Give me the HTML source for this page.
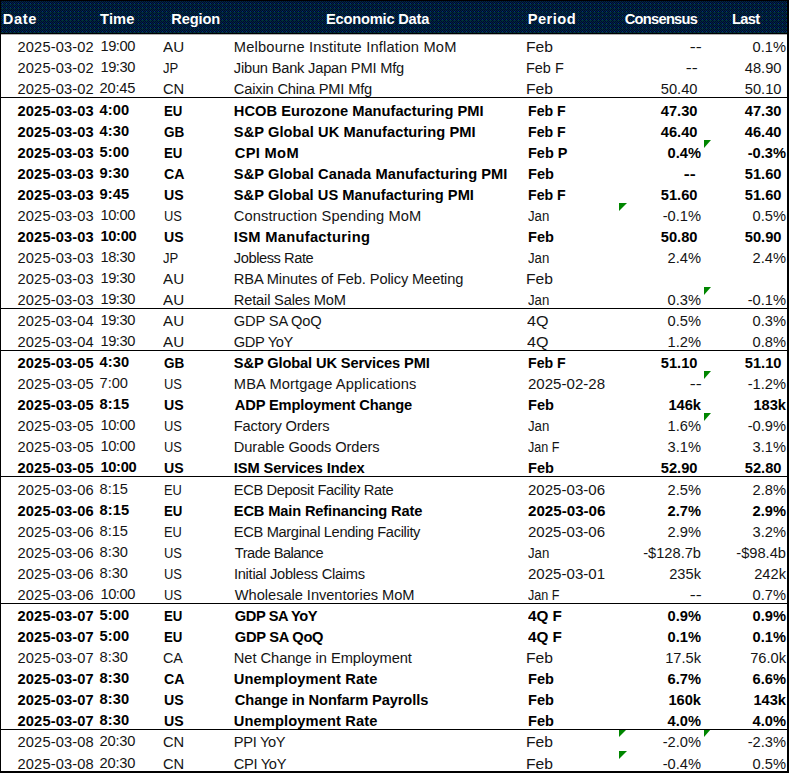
<!DOCTYPE html>
<html><head><meta charset="utf-8"><title>Economic Calendar</title>
<style>
html,body{margin:0;padding:0;background:#fff;}
body{width:790px;height:774px;position:relative;overflow:hidden;font-family:"Liberation Sans",sans-serif;font-size:14.67px;color:#141414;}
.hd{position:absolute;left:1px;top:1px;width:786px;height:33px;}
.bt{position:absolute;left:0;top:0;width:789px;height:1px;background:#000;}
.bl{position:absolute;left:0;top:0;width:1px;height:773px;background:#000;}
.br{position:absolute;left:787px;top:0;width:2px;height:773px;background:#000;}
.bb{position:absolute;left:0;top:771px;width:789px;height:2px;background:#000;}
.hb{position:absolute;left:0;top:33px;width:789px;height:1px;background:#000;}
.hb2{position:absolute;left:1px;top:34px;width:786px;height:1px;background:rgba(0,0,0,0.3);}
.sep{position:absolute;left:0;width:788px;height:1px;background:#000;}
.r{position:absolute;left:0;width:790px;height:21px;line-height:21px;white-space:nowrap;}
.r span{position:absolute;top:3px;transform-origin:0 50%;}
.b{font-weight:bold;color:#000;}
.h{position:absolute;top:1px;height:33px;line-height:37px;font-weight:bold;color:#fff;white-space:nowrap;}
.c1{left:18px}.r span.c2{left:101px;top:2px}.c3{left:163px}.c4{left:235px}.c5{left:528px}
.c6{right:89px}.c6d{right:92.5px}.c7{right:4px}.c7d{right:8.5px}
.t{position:absolute;width:0;height:0;border-top:8px solid #008600;border-right:8px solid transparent;}
</style></head><body>
<svg class="hd" width="786" height="33"><defs><pattern id="d" width="4" height="4" patternUnits="userSpaceOnUse">
<rect width="4" height="4" fill="#000038"/>
<rect x="1" y="0" width="1" height="1" fill="#003333"/><rect x="3" y="0" width="1" height="1" fill="#003333"/>
<rect x="0" y="1" width="1" height="1" fill="#003333"/><rect x="2" y="1" width="1" height="1" fill="#003333"/>
<rect x="1" y="2" width="1" height="1" fill="#003377"/><rect x="3" y="2" width="1" height="1" fill="#003333"/>
<rect x="0" y="3" width="3" height="1" fill="#003333"/>
</pattern></defs><rect width="786" height="33" fill="url(#d)"/></svg>
<div class="bt"></div><div class="bl"></div><div class="br"></div><div class="bb"></div><div class="hb"></div><div class="hb2"></div>
<div class="h" style="left:2.8px;letter-spacing:0.63px">Date</div>
<div class="h" style="left:100.1px;letter-spacing:0.13px">Time</div>
<div class="h" style="left:171.3px;letter-spacing:-0.14px">Region</div>
<div class="h" style="left:326px;letter-spacing:-0.21px">Economic Data</div>
<div class="h" style="left:527.7px;letter-spacing:0.48px">Period</div>
<div class="h" style="left:624.7px;letter-spacing:-0.72px">Consensus</div>
<div class="h" style="left:732px;letter-spacing:-0.7px">Last</div>

<div class="r" style="top:34.20px"><span class="c1" style="letter-spacing:0.144px;margin-left:-0.50px">2025-03-02</span><span class="c2" style="letter-spacing:-0.425px;margin-left:-0.60px">19:00</span><span class="c3" style="transform:scaleX(1.0363);margin-left:0.20px">AU</span><span class="c4" style="letter-spacing:0.184px;margin-left:-1.20px">Melbourne Institute Inflation MoM</span><span class="c5" style="transform:scaleX(1.0701);margin-left:-1.60px">Feb</span><span class="c6" style="transform-origin:100% 50%;transform:scaleX(1.22);margin-right:-0.6px">--</span><span class="c7">0.1%</span></div>
<div class="r" style="top:55.20px"><span class="c1" style="letter-spacing:0.144px;margin-left:-0.50px">2025-03-02</span><span class="c2" style="letter-spacing:-0.425px;margin-left:-0.60px">19:30</span><span class="c3" style="transform:scaleX(0.8931);margin-left:0.20px">JP</span><span class="c4" style="letter-spacing:-0.209px;margin-left:-1.20px">Jibun Bank Japan PMI Mfg</span><span class="c5" style="transform:scaleX(0.9865);margin-left:-1.60px">Feb F</span><span class="c6d" style="transform-origin:100% 50%;transform:scaleX(1.22);margin-right:-0.6px">--</span><span class="c7d">48.90</span></div>
<div class="r" style="top:76.20px"><span class="c1" style="letter-spacing:0.144px;margin-left:-0.50px">2025-03-02</span><span class="c2" style="letter-spacing:-0.225px;margin-left:-1.40px">20:45</span><span class="c3" style="transform:scaleX(1.0028);margin-left:-0.10px">CN</span><span class="c4" style="letter-spacing:-0.174px;margin-left:-1.20px">Caixin China PMI Mfg</span><span class="c5" style="transform:scaleX(1.0701);margin-left:-1.60px">Feb</span><span class="c6d">50.40</span><span class="c7d">50.10</span></div>
<div class="r b" style="top:98.20px"><span class="c1" style="letter-spacing:0.144px;margin-left:-0.50px">2025-03-03</span><span class="c2" style="letter-spacing:0.133px;margin-left:-1.50px">4:00</span><span class="c3" style="transform:scaleX(0.9021);margin-left:1.00px">EU</span><span class="c4" style="letter-spacing:0.020px;margin-left:-1.20px">HCOB Eurozone Manufacturing PMI</span><span class="c5" style="transform:scaleX(0.9657);margin-left:0.10px">Feb F</span><span class="c6d">47.30</span><span class="c7d">47.30</span></div>
<div class="r b" style="top:119.20px"><span class="c1" style="letter-spacing:0.144px;margin-left:-0.50px">2025-03-03</span><span class="c2" style="letter-spacing:0.133px;margin-left:-1.50px">4:30</span><span class="c3" style="transform:scaleX(0.9226);margin-left:0.50px">GB</span><span class="c4" style="letter-spacing:0.060px;margin-left:-1.20px">S&amp;P Global UK Manufacturing PMI</span><span class="c5" style="transform:scaleX(0.9657);margin-left:0.10px">Feb F</span><span class="c6d">46.40</span><span class="c7d">46.40</span></div>
<div class="r b" style="top:140.20px"><span class="c1" style="letter-spacing:0.144px;margin-left:-0.50px">2025-03-03</span><span class="c2" style="letter-spacing:0.133px;margin-left:-1.50px">5:00</span><span class="c3" style="transform:scaleX(0.9021);margin-left:1.00px">EU</span><span class="c4" style="letter-spacing:0.317px;margin-left:-0.20px">CPI MoM</span><span class="c5" style="transform:scaleX(0.9875);margin-left:0.10px">Feb P</span><span class="c6">0.4%</span><span class="c7">-0.3%</span></div>
<div class="t" style="left:704px;top:140px;border-right-width:7px"></div>
<div class="r b" style="top:161.20px"><span class="c1" style="letter-spacing:0.144px;margin-left:-0.50px">2025-03-03</span><span class="c2" style="letter-spacing:0.133px;margin-left:-1.50px">9:30</span><span class="c3" style="transform:scaleX(0.9655);margin-left:0.70px">CA</span><span class="c4" style="letter-spacing:0.056px;margin-left:-1.20px">S&amp;P Global Canada Manufacturing PMI</span><span class="c5" style="transform:scaleX(0.9931);margin-left:0.10px">Feb</span><span class="c6d" style="transform-origin:100% 50%;transform:scaleX(1.22);margin-right:2px">--</span><span class="c7d">51.60</span></div>
<div class="r b" style="top:182.20px"><span class="c1" style="letter-spacing:0.144px;margin-left:-0.50px">2025-03-03</span><span class="c2" style="letter-spacing:0.133px;margin-left:-1.50px">9:45</span><span class="c3" style="transform:scaleX(0.9637);margin-left:0.50px">US</span><span class="c4" style="letter-spacing:0.033px;margin-left:-1.20px">S&amp;P Global US Manufacturing PMI</span><span class="c5" style="transform:scaleX(0.9657);margin-left:0.10px">Feb F</span><span class="c6d">51.60</span><span class="c7d">51.60</span></div>
<div class="r" style="top:203.20px"><span class="c1" style="letter-spacing:0.144px;margin-left:-0.50px">2025-03-03</span><span class="c2" style="letter-spacing:-0.425px;margin-left:-0.60px">10:00</span><span class="c3" style="transform:scaleX(0.8818);margin-left:0.50px">US</span><span class="c4" style="letter-spacing:0.104px;margin-left:-1.20px">Construction Spending MoM</span><span class="c5" style="transform:scaleX(0.9020);margin-left:-0.20px">Jan</span><span class="c6">-0.1%</span><span class="c7">0.5%</span></div>
<div class="t" style="left:619px;top:203px"></div>
<div class="r b" style="top:224.20px"><span class="c1" style="letter-spacing:0.144px;margin-left:-0.50px">2025-03-03</span><span class="c2" style="letter-spacing:-0.300px;margin-left:-0.60px">10:00</span><span class="c3" style="transform:scaleX(0.9637);margin-left:0.50px">US</span><span class="c4" style="letter-spacing:0.312px;margin-left:-1.20px">ISM Manufacturing</span><span class="c5" style="transform:scaleX(0.9931);margin-left:0.10px">Feb</span><span class="c6d">50.80</span><span class="c7d">50.90</span></div>
<div class="r" style="top:245.20px"><span class="c1" style="letter-spacing:0.144px;margin-left:-0.50px">2025-03-03</span><span class="c2" style="letter-spacing:-0.425px;margin-left:-0.60px">18:30</span><span class="c3" style="transform:scaleX(0.8931);margin-left:0.20px">JP</span><span class="c4" style="letter-spacing:-0.436px;margin-left:-1.20px">Jobless Rate</span><span class="c5" style="transform:scaleX(0.9020);margin-left:-0.20px">Jan</span><span class="c6">2.4%</span><span class="c7">2.4%</span></div>
<div class="r" style="top:266.20px"><span class="c1" style="letter-spacing:0.144px;margin-left:-0.50px">2025-03-03</span><span class="c2" style="letter-spacing:-0.425px;margin-left:-0.60px">19:30</span><span class="c3" style="transform:scaleX(1.0363);margin-left:0.20px">AU</span><span class="c4" style="letter-spacing:-0.127px;margin-left:-1.20px">RBA Minutes of Feb. Policy Meeting</span><span class="c5" style="transform:scaleX(1.0701);margin-left:-1.60px">Feb</span><span class="c6"></span><span class="c7"></span></div>
<div class="r" style="top:287.20px"><span class="c1" style="letter-spacing:0.144px;margin-left:-0.50px">2025-03-03</span><span class="c2" style="letter-spacing:-0.425px;margin-left:-0.60px">19:30</span><span class="c3" style="transform:scaleX(1.0363);margin-left:0.20px">AU</span><span class="c4" style="letter-spacing:-0.180px;margin-left:-1.20px">Retail Sales MoM</span><span class="c5" style="transform:scaleX(0.9020);margin-left:-0.20px">Jan</span><span class="c6">0.3%</span><span class="c7">-0.1%</span></div>
<div class="t" style="left:704px;top:287px;border-right-width:7px"></div>
<div class="r" style="top:308.20px"><span class="c1" style="letter-spacing:0.144px;margin-left:-0.50px">2025-03-04</span><span class="c2" style="letter-spacing:-0.425px;margin-left:-0.60px">19:30</span><span class="c3" style="transform:scaleX(1.0363);margin-left:0.20px">AU</span><span class="c4" style="letter-spacing:-0.156px;margin-left:-1.20px">GDP SA QoQ</span><span class="c5" style="transform:scaleX(1.0969);margin-left:-1.00px">4Q</span><span class="c6">0.5%</span><span class="c7">0.3%</span></div>
<div class="r" style="top:329.20px"><span class="c1" style="letter-spacing:0.144px;margin-left:-0.50px">2025-03-04</span><span class="c2" style="letter-spacing:-0.425px;margin-left:-0.60px">19:30</span><span class="c3" style="transform:scaleX(1.0363);margin-left:0.20px">AU</span><span class="c4" style="letter-spacing:-0.350px;margin-left:-1.20px">GDP YoY</span><span class="c5" style="transform:scaleX(1.0969);margin-left:-1.00px">4Q</span><span class="c6">1.2%</span><span class="c7">0.8%</span></div>
<div class="r b" style="top:350.20px"><span class="c1" style="letter-spacing:0.144px;margin-left:-0.50px">2025-03-05</span><span class="c2" style="letter-spacing:0.133px;margin-left:-1.50px">4:30</span><span class="c3" style="transform:scaleX(0.9226);margin-left:0.50px">GB</span><span class="c4" style="letter-spacing:-0.132px;margin-left:-1.20px">S&amp;P Global UK Services PMI</span><span class="c5" style="transform:scaleX(0.9657);margin-left:0.10px">Feb F</span><span class="c6d">51.10</span><span class="c7d">51.10</span></div>
<div class="r" style="top:371.20px"><span class="c1" style="letter-spacing:0.144px;margin-left:-0.50px">2025-03-05</span><span class="c2" style="letter-spacing:0.000px;margin-left:-1.50px">7:00</span><span class="c3" style="transform:scaleX(0.8818);margin-left:0.50px">US</span><span class="c4" style="letter-spacing:0.142px;margin-left:-1.20px">MBA Mortgage Applications</span><span class="c5" style="transform:scaleX(1.0274);margin-left:0.00px">2025-02-28</span><span class="c6" style="transform-origin:100% 50%;transform:scaleX(1.22);margin-right:-0.6px">--</span><span class="c7">-1.2%</span></div>
<div class="t" style="left:704px;top:371px;border-right-width:7px"></div>
<div class="r b" style="top:392.20px"><span class="c1" style="letter-spacing:0.144px;margin-left:-0.50px">2025-03-05</span><span class="c2" style="letter-spacing:0.133px;margin-left:-1.50px">8:15</span><span class="c3" style="transform:scaleX(0.9637);margin-left:0.50px">US</span><span class="c4" style="letter-spacing:-0.155px;margin-left:-0.20px">ADP Employment Change</span><span class="c5" style="transform:scaleX(0.9931);margin-left:0.10px">Feb</span><span class="c6">146k</span><span class="c7">183k</span></div>
<div class="r" style="top:413.20px"><span class="c1" style="letter-spacing:0.144px;margin-left:-0.50px">2025-03-05</span><span class="c2" style="letter-spacing:-0.425px;margin-left:-0.60px">10:00</span><span class="c3" style="transform:scaleX(0.8818);margin-left:0.50px">US</span><span class="c4" style="letter-spacing:-0.154px;margin-left:-1.20px">Factory Orders</span><span class="c5" style="transform:scaleX(0.9020);margin-left:-0.20px">Jan</span><span class="c6">1.6%</span><span class="c7">-0.9%</span></div>
<div class="t" style="left:704px;top:413px;border-right-width:7px"></div>
<div class="r" style="top:434.20px"><span class="c1" style="letter-spacing:0.144px;margin-left:-0.50px">2025-03-05</span><span class="c2" style="letter-spacing:-0.425px;margin-left:-0.60px">10:00</span><span class="c3" style="transform:scaleX(0.8818);margin-left:0.50px">US</span><span class="c4" style="letter-spacing:-0.089px;margin-left:-1.20px">Durable Goods Orders</span><span class="c5" style="transform:scaleX(0.8571);margin-left:-0.20px">Jan F</span><span class="c6">3.1%</span><span class="c7">3.1%</span></div>
<div class="r b" style="top:455.20px"><span class="c1" style="letter-spacing:0.144px;margin-left:-0.50px">2025-03-05</span><span class="c2" style="letter-spacing:-0.300px;margin-left:-0.60px">10:00</span><span class="c3" style="transform:scaleX(0.9637);margin-left:0.50px">US</span><span class="c4" style="letter-spacing:-0.118px;margin-left:-1.20px">ISM Services Index</span><span class="c5" style="transform:scaleX(0.9931);margin-left:0.10px">Feb</span><span class="c6d">52.90</span><span class="c7d">52.80</span></div>
<div class="r" style="top:477.20px"><span class="c1" style="letter-spacing:0.144px;margin-left:-0.50px">2025-03-06</span><span class="c2" style="letter-spacing:0.000px;margin-left:-1.50px">8:15</span><span class="c3" style="transform:scaleX(0.8782);margin-left:1.00px">EU</span><span class="c4" style="letter-spacing:-0.367px;margin-left:-1.20px">ECB Deposit Facility Rate</span><span class="c5" style="transform:scaleX(1.0274);margin-left:0.00px">2025-03-06</span><span class="c6">2.5%</span><span class="c7">2.8%</span></div>
<div class="r b" style="top:498.20px"><span class="c1" style="letter-spacing:0.144px;margin-left:-0.50px">2025-03-06</span><span class="c2" style="letter-spacing:0.133px;margin-left:-1.50px">8:15</span><span class="c3" style="transform:scaleX(0.9021);margin-left:1.00px">EU</span><span class="c4" style="letter-spacing:-0.154px;margin-left:-1.20px">ECB Main Refinancing Rate</span><span class="c5" style="transform:scaleX(1.0331);margin-left:0.00px">2025-03-06</span><span class="c6">2.7%</span><span class="c7">2.9%</span></div>
<div class="r" style="top:519.20px"><span class="c1" style="letter-spacing:0.144px;margin-left:-0.50px">2025-03-06</span><span class="c2" style="letter-spacing:0.000px;margin-left:-1.50px">8:15</span><span class="c3" style="transform:scaleX(0.8782);margin-left:1.00px">EU</span><span class="c4" style="letter-spacing:-0.346px;margin-left:-1.20px">ECB Marginal Lending Facility</span><span class="c5" style="transform:scaleX(1.0274);margin-left:0.00px">2025-03-06</span><span class="c6">2.9%</span><span class="c7">3.2%</span></div>
<div class="r" style="top:540.20px"><span class="c1" style="letter-spacing:0.144px;margin-left:-0.50px">2025-03-06</span><span class="c2" style="letter-spacing:0.000px;margin-left:-1.50px">8:30</span><span class="c3" style="transform:scaleX(0.8818);margin-left:0.50px">US</span><span class="c4" style="letter-spacing:-0.500px;margin-left:-0.20px">Trade Balance</span><span class="c5" style="transform:scaleX(0.9020);margin-left:-0.20px">Jan</span><span class="c6">-$128.7b</span><span class="c7">-$98.4b</span></div>
<div class="r" style="top:561.20px"><span class="c1" style="letter-spacing:0.144px;margin-left:-0.50px">2025-03-06</span><span class="c2" style="letter-spacing:0.000px;margin-left:-1.50px">8:30</span><span class="c3" style="transform:scaleX(0.8818);margin-left:0.50px">US</span><span class="c4" style="letter-spacing:-0.270px;margin-left:-1.10px">Initial Jobless Claims</span><span class="c5" style="transform:scaleX(1.0274);margin-left:0.00px">2025-03-01</span><span class="c6">235k</span><span class="c7">242k</span></div>
<div class="r" style="top:582.20px"><span class="c1" style="letter-spacing:0.144px;margin-left:-0.50px">2025-03-06</span><span class="c2" style="letter-spacing:-0.425px;margin-left:-0.60px">10:00</span><span class="c3" style="transform:scaleX(0.8818);margin-left:0.50px">US</span><span class="c4" style="letter-spacing:-0.046px;margin-left:-0.20px">Wholesale Inventories MoM</span><span class="c5" style="transform:scaleX(0.8571);margin-left:-0.20px">Jan F</span><span class="c6" style="transform-origin:100% 50%;transform:scaleX(1.22);margin-right:-0.6px">--</span><span class="c7">0.7%</span></div>
<div class="r b" style="top:603.20px"><span class="c1" style="letter-spacing:0.144px;margin-left:-0.50px">2025-03-07</span><span class="c2" style="letter-spacing:0.133px;margin-left:-1.50px">5:00</span><span class="c3" style="transform:scaleX(0.9021);margin-left:1.00px">EU</span><span class="c4" style="letter-spacing:-0.433px;margin-left:-0.20px">GDP SA YoY</span><span class="c5" style="transform:scaleX(1.0396);margin-left:-0.50px">4Q F</span><span class="c6">0.9%</span><span class="c7">0.9%</span></div>
<div class="r b" style="top:624.20px"><span class="c1" style="letter-spacing:0.144px;margin-left:-0.50px">2025-03-07</span><span class="c2" style="letter-spacing:0.133px;margin-left:-1.50px">5:00</span><span class="c3" style="transform:scaleX(0.9021);margin-left:1.00px">EU</span><span class="c4" style="letter-spacing:-0.278px;margin-left:-0.20px">GDP SA QoQ</span><span class="c5" style="transform:scaleX(1.0396);margin-left:-0.50px">4Q F</span><span class="c6">0.1%</span><span class="c7">0.1%</span></div>
<div class="r" style="top:645.20px"><span class="c1" style="letter-spacing:0.144px;margin-left:-0.50px">2025-03-07</span><span class="c2" style="letter-spacing:0.000px;margin-left:-1.50px">8:30</span><span class="c3" style="transform:scaleX(0.9765);margin-left:-0.10px">CA</span><span class="c4" style="letter-spacing:-0.048px;margin-left:-1.20px">Net Change in Employment</span><span class="c5" style="transform:scaleX(1.0701);margin-left:-1.60px">Feb</span><span class="c6">17.5k</span><span class="c7">76.0k</span></div>
<div class="r b" style="top:666.20px"><span class="c1" style="letter-spacing:0.144px;margin-left:-0.50px">2025-03-07</span><span class="c2" style="letter-spacing:0.133px;margin-left:-1.50px">8:30</span><span class="c3" style="transform:scaleX(0.9655);margin-left:0.70px">CA</span><span class="c4" style="letter-spacing:0.119px;margin-left:-1.20px">Unemployment Rate</span><span class="c5" style="transform:scaleX(0.9931);margin-left:0.10px">Feb</span><span class="c6">6.7%</span><span class="c7">6.6%</span></div>
<div class="r b" style="top:687.20px"><span class="c1" style="letter-spacing:0.144px;margin-left:-0.50px">2025-03-07</span><span class="c2" style="letter-spacing:0.133px;margin-left:-1.50px">8:30</span><span class="c3" style="transform:scaleX(0.9637);margin-left:0.50px">US</span><span class="c4" style="letter-spacing:-0.112px;margin-left:-0.20px">Change in Nonfarm Payrolls</span><span class="c5" style="transform:scaleX(0.9931);margin-left:0.10px">Feb</span><span class="c6">160k</span><span class="c7">143k</span></div>
<div class="r b" style="top:708.20px"><span class="c1" style="letter-spacing:0.144px;margin-left:-0.50px">2025-03-07</span><span class="c2" style="letter-spacing:0.133px;margin-left:-1.50px">8:30</span><span class="c3" style="transform:scaleX(0.9637);margin-left:0.50px">US</span><span class="c4" style="letter-spacing:0.119px;margin-left:-1.20px">Unemployment Rate</span><span class="c5" style="transform:scaleX(0.9931);margin-left:0.10px">Feb</span><span class="c6">4.0%</span><span class="c7">4.0%</span></div>
<div class="r" style="top:729.20px"><span class="c1" style="letter-spacing:0.144px;margin-left:-0.50px">2025-03-08</span><span class="c2" style="letter-spacing:-0.225px;margin-left:-1.40px">20:30</span><span class="c3" style="transform:scaleX(1.0028);margin-left:-0.10px">CN</span><span class="c4" style="letter-spacing:-0.333px;margin-left:-1.20px">PPI YoY</span><span class="c5" style="transform:scaleX(1.0701);margin-left:-1.60px">Feb</span><span class="c6">-2.0%</span><span class="c7">-2.3%</span></div>
<div class="t" style="left:619px;top:729px"></div>
<div class="t" style="left:704px;top:729px;border-right-width:7px"></div>
<div class="r" style="top:751.20px"><span class="c1" style="letter-spacing:0.144px;margin-left:-0.50px">2025-03-08</span><span class="c2" style="letter-spacing:-0.225px;margin-left:-1.40px">20:30</span><span class="c3" style="transform:scaleX(1.0028);margin-left:-0.10px">CN</span><span class="c4" style="letter-spacing:-0.333px;margin-left:-1.20px">CPI YoY</span><span class="c5" style="transform:scaleX(1.0701);margin-left:-1.60px">Feb</span><span class="c6">-0.4%</span><span class="c7">0.5%</span></div>
<div class="t" style="left:619px;top:751px"></div>
<div class="sep" style="top:97px"></div>
<div class="sep" style="top:308px"></div>
<div class="sep" style="top:350px"></div>
<div class="sep" style="top:476px"></div>
<div class="sep" style="top:603px"></div>
<div class="sep" style="top:729px"></div>
</body></html>
